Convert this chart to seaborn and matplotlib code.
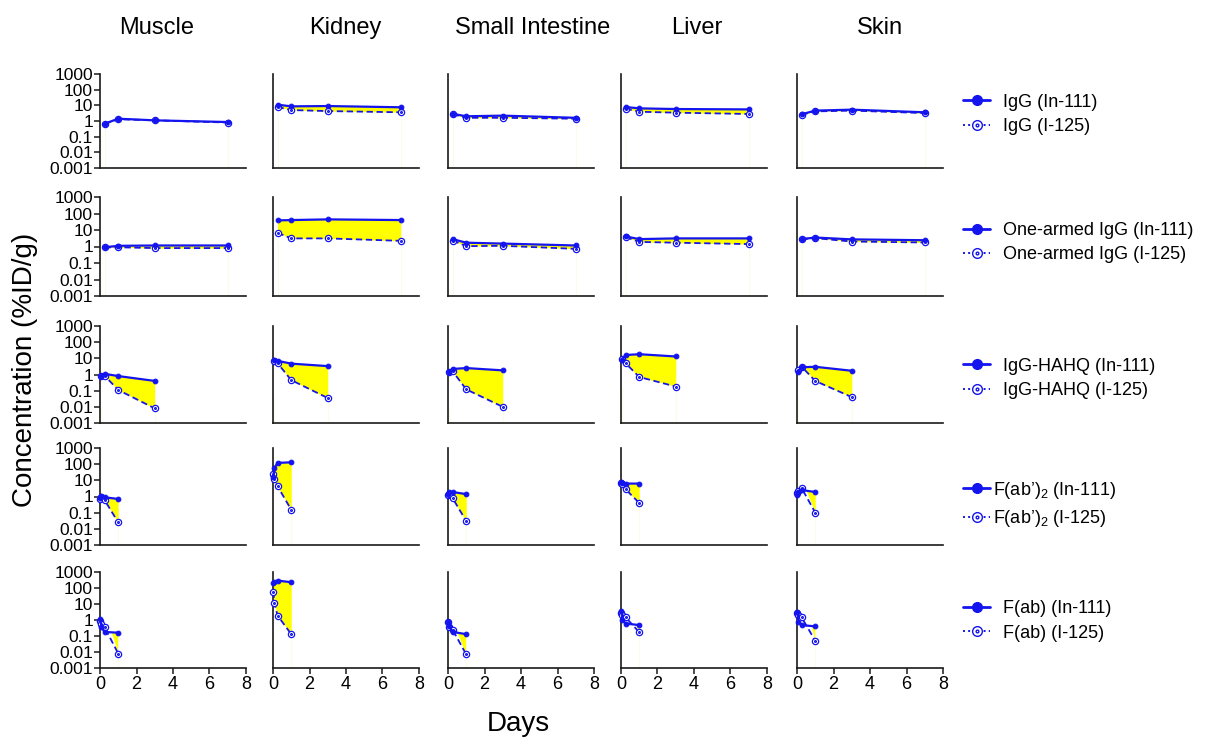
import numpy as np
import pandas as pd
import matplotlib
matplotlib.use("Agg")
import matplotlib.pyplot as plt
from matplotlib.path import Path
from matplotlib.lines import Line2D
from matplotlib.ticker import LogLocator, NullFormatter
import seaborn as sns

# ---------------------------------------------------------------- data
organs = ["Muscle", "Kidney", "Small Intestine", "Liver", "Skin"]
formats = ["IgG", "One-armed IgG", "IgG-HAHQ", "F(ab’)$_2$", "F(ab)"]

# sampling times (days) for each format
days_igg = [0.25, 1, 3, 7]
days_oa = [0.25, 1, 3, 7]
days_hahq = [0.04, 0.25, 1, 3]
days_fab2 = [0.02, 0.08, 0.25, 1]
days_fab = [0.02, 0.08, 0.25, 1]

# concentrations (%ID/g); one list per organ, in the order of `organs`
igg_in111 = [[0.67, 1.4, 1.1, 0.86], [11, 8.6, 9, 7.5], [2.9, 2.0, 2.2, 1.6],
             [7.8, 6.4, 5.8, 5.5], [2.7, 4.6, 5.3, 3.6]]
igg_i125 = [[0.65, 1.3, 1.1, 0.8], [7.8, 5.0, 4.3, 3.6], [2.7, 1.6, 1.6, 1.4],
            [6.1, 3.9, 3.4, 2.8], [2.5, 4.1, 4.6, 3.2]]

oa_in111 = [[0.9, 1.1, 1.15, 1.15], [38, 40, 44, 40], [2.8, 1.7, 1.5, 1.15],
            [4.1, 2.8, 3.1, 3.1], [2.8, 3.5, 2.7, 2.4]]
oa_i125 = [[0.87, 0.9, 0.8, 0.8], [6.8, 3.1, 3.1, 2.2], [2.3, 1.05, 1.1, 0.72],
           [3.7, 1.9, 1.7, 1.4], [2.8, 3.2, 2.0, 1.75]]

hahq_in111 = [[0.8, 1.1, 0.8, 0.4], [8, 7, 4.7, 3.3], [1.5, 2.2, 2.5, 1.8],
              [8, 16, 18, 13], [1.5, 2.8, 3.0, 1.7]]
hahq_i125 = [[0.8, 0.85, 0.11, 0.008], [7.3, 5.0, 0.45, 0.035], [1.4, 1.6, 0.12, 0.01],
             [9, 5.0, 0.7, 0.18], [1.8, 3.1, 0.4, 0.04]]

fab2_in111 = [[0.8, 1.1, 0.9, 0.7], [15, 60, 120, 130], [1.5, 1.8, 1.9, 1.4],
              [8, 7, 6.3, 6.3], [1.3, 2.0, 2.5, 1.9]]
fab2_i125 = [[0.7, 0.9, 0.6, 0.025], [25, 12, 4.3, 0.15], [1.2, 1.4, 0.8, 0.03],
             [7, 6, 2.8, 0.4], [1.6, 2.2, 3.4, 0.1]]

fab_in111 = [[1.1, 0.35, 0.18, 0.16], [200, 250, 290, 230], [0.8, 0.4, 0.18, 0.13],
             [3.7, 1.0, 0.6, 0.48], [3.3, 0.7, 0.48, 0.4]]
fab_i125 = [[0.9, 0.6, 0.35, 0.008], [60, 11, 1.9, 0.13], [0.7, 0.35, 0.25, 0.007],
            [2.9, 2.0, 1.5, 0.17], [2.6, 2.0, 1.5, 0.05]]

row_days = [days_igg, days_oa, days_hahq, days_fab2, days_fab]
row_in111 = [igg_in111, oa_in111, hahq_in111, fab2_in111, fab_in111]
row_i125 = [igg_i125, oa_i125, hahq_i125, fab2_i125, fab_i125]

y_ticks = [1e-3, 1e-2, 1e-1, 1, 10, 100, 1000]
y_ticklabels = ["0.001", "0.01", "0.1", "1", "10", "100", "1000"]
x_ticks = [0, 2, 4, 6, 8]

# ---------------------------------------------------------------- style
sns.set_style("ticks")
plt.rcParams["font.family"] = ["Liberation Sans", "DejaVu Sans"]
plt.rcParams["mathtext.fontset"] = "custom"
plt.rcParams["mathtext.rm"] = "Liberation Sans"
plt.rcParams["mathtext.it"] = "Liberation Sans:italic"
for key in ("text.color", "axes.labelcolor", "xtick.color", "ytick.color"):
    plt.rcParams[key] = "black"

BLUE = "#1414ee"
YELLOW = "#ffff00"
SPINE = "#1a1a1a"

# open circle with a dot in the middle
ring = Path.make_compound_path(Path.unit_circle(), Path.circle((0, 0), 0.28))

W, H = 1227, 740
fig = plt.figure(figsize=(W / 100, H / 100), dpi=100)

col_left = [100, 273, 448, 621, 797]
col_width = 146
row_top = [74, 197, 326, 448, 572]
row_bottom = [168, 296, 423, 545, 668]
legend_y = [0.57, 0.54, 0.46, 0.42, 0.49]
legend_pad = [0.7, 0.7, 0.7, 0.15, 0.7]

for r in range(5):
    for c in range(5):
        rect = [col_left[c] / W, 1 - row_bottom[r] / H,
                col_width / W, (row_bottom[r] - row_top[r]) / H]
        ax = fig.add_axes(rect)
        df = pd.DataFrame({"Days": row_days[r],
                           "In111": row_in111[r][c],
                           "I125": row_i125[r][c]})

        ax.fill_between(df["Days"], df["In111"], df["I125"],
                        where=df["In111"] >= df["I125"], interpolate=True,
                        color=YELLOW, linewidth=0, zorder=1)
        for xv in (df["Days"].iloc[0], df["Days"].iloc[-1]):
            ax.vlines(xv, 1e-3, min(df["In111"].min(), df["I125"].min()),
                      color="#fbfbe6", linewidth=0.8, zorder=0.5)

        sns.lineplot(data=df, x="Days", y="I125", ax=ax, color=BLUE,
                     linewidth=1.3, linestyle=(0, (3.5, 2)), marker=ring,
                     markersize=4.5, markerfacecolor="white",
                     markeredgecolor=BLUE, markeredgewidth=0.9,
                     clip_on=False, zorder=3)
        sns.lineplot(data=df, x="Days", y="In111", ax=ax, color=BLUE,
                     linewidth=1.6, marker="o", markersize=3.4,
                     markeredgecolor=BLUE, clip_on=False, zorder=4)

        ax.set_yscale("log")
        ax.set_ylim(1e-3, 1e3)
        ax.set_xlim(0, 8)
        ax.set_xlabel("")
        ax.set_ylabel("")
        for side in ("top", "right"):
            ax.spines[side].set_visible(False)
        for side in ("left", "bottom"):
            ax.spines[side].set_linewidth(1.2)
            ax.spines[side].set_color(SPINE)

        if c == 0:
            ax.set_yticks(y_ticks)
            ax.set_yticklabels(y_ticklabels)
            ax.yaxis.set_minor_locator(LogLocator(base=10, subs=np.arange(2, 10)))
            ax.yaxis.set_minor_formatter(NullFormatter())
            ax.tick_params(axis="y", which="major", length=4, width=1.1,
                           labelsize=12.5, pad=1, color=SPINE)
            ax.tick_params(axis="y", which="minor", length=2.2, width=0.8,
                           color=SPINE)
        else:
            ax.tick_params(axis="y", which="both", left=False, labelleft=False)

        if r == 4:
            ax.set_xticks(x_ticks)
            ax.set_xticklabels([str(v) for v in x_ticks])
            ax.tick_params(axis="x", length=4, width=1.1, labelsize=13,
                           pad=2, color=SPINE)
        else:
            ax.tick_params(axis="x", which="both", bottom=False,
                           labelbottom=False)

        if c == 4:
            handles = [
                Line2D([], [], color=BLUE, linewidth=2, marker="o",
                       markersize=7),
                Line2D([], [], color=BLUE, linewidth=1.4, linestyle=":",
                       marker=ring, markersize=7, markerfacecolor="white",
                       markeredgewidth=1.0),
            ]
            labels = [f"{formats[r]} (In-111)", f"{formats[r]} (I-125)"]
            ax.legend(handles, labels, loc="center left",
                      bbox_to_anchor=(1.137, legend_y[r]), frameon=False,
                      fontsize=13, handlelength=1.5,
                      handletextpad=legend_pad[r], labelspacing=0.4,
                      borderpad=0, borderaxespad=0)

# column titles
title_x = [157, 345, 533, 697, 880]
for name, xc in zip(organs, title_x):
    fig.text(xc / W, 1 - 28 / H, name, ha="center", va="center", fontsize=17)

fig.text(25 / W, 1 - 370 / H, "Concentration (%ID/g)", rotation=90,
         ha="center", va="center", fontsize=20)
fig.text(518 / W, 1 - 724 / H, "Days", ha="center", va="center", fontsize=20)

fig.savefig("out.png", dpi=100)
